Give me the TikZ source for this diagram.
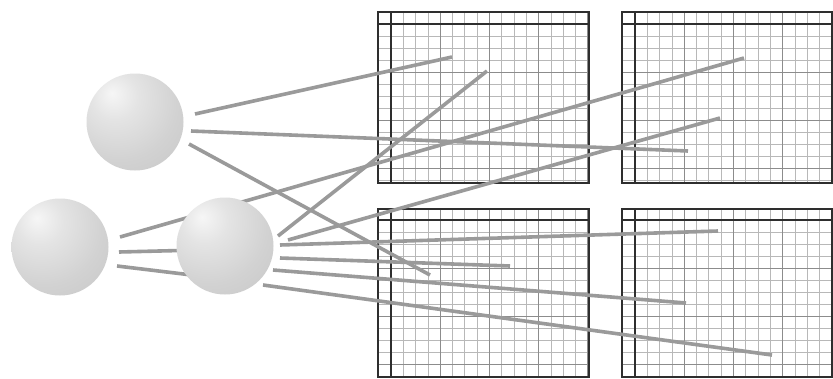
\documentclass[tikz,border=0pt]{standalone}
\usepackage{tikz}
\definecolor{sph0}{HTML}{F6F6F6}
\definecolor{sph1}{HTML}{E4E4E4}
\definecolor{sph2}{HTML}{D2D2D2}
\definecolor{sph3}{HTML}{C2C2C2}
\definecolor{sph4}{HTML}{B4B4B4}
\definecolor{wire}{HTML}{9A9A9A}
\definecolor{frame}{HTML}{2E2E2E}
\pgfdeclareradialshading{spherelight}{\pgfpoint{-12bp}{15bp}}{%
  color(0bp)=(sph0); color(12bp)=(sph1); color(30bp)=(sph2);
  color(55bp)=(sph3); color(70bp)=(sph4); color(100bp)=(sph4)}
\tikzset{
  gminor/.style={draw=black!28, line width=0.8pt},
  gmajor/.style={draw=black!45, line width=0.9pt},
  gframe/.style={draw=frame, line width=1.8pt},
  ginner/.style={draw=frame, line width=1.4pt},
  wireline/.style={draw=wire, line width=3.6pt},
  sphere/.style={circle, minimum size=97pt, inner sep=0pt, shading=spherelight}
}
\newcommand\gridpanel[6]{%
  \begin{scope}
    \clip (#1,#2) rectangle (#3,#4);
    \foreach \i in {-1,...,18} \draw[gminor] ({#5+\i*12.3},#2) -- ({#5+\i*12.3},#4);
    \foreach \j in {-1,...,15} \draw[gminor] (#1,{#6+\j*12}) -- (#3,{#6+\j*12});
    \foreach \i in {1,...,4} \draw[gmajor] ({#5+\i*49.2},#2) -- ({#5+\i*49.2},#4);
    \foreach \j in {1,...,3} \draw[gmajor] (#1,{#6+\j*48}) -- (#3,{#6+\j*48});
  \end{scope}
  \draw[ginner] (#5,#2) -- (#5,#4);
  \draw[ginner] (#1,#6) -- (#3,#6);
  \draw[gframe] (#1,#2) rectangle (#3,#4);
}
\begin{document}
\begin{tikzpicture}[x=1pt,y=-1pt]
\useasboundingbox[fill=white] (0,0) rectangle (833,378);

% grid panels
\gridpanel{378}{12}{589}{183}{391}{24}
\gridpanel{622}{12}{832}{183}{635}{24}
\gridpanel{378}{209}{589}{377}{391}{220}
\gridpanel{622}{209}{832}{377}{635}{220}

% connector end points
\coordinate (a1) at (195,114);  \coordinate (b1) at (452,57);
\coordinate (a2) at (191,131);  \coordinate (b2) at (688,151);
\coordinate (a3) at (189,144);  \coordinate (b3) at (430,275);
\coordinate (a4) at (120,237);  \coordinate (b4) at (744,58);
\coordinate (a5) at (119,252);  \coordinate (b5) at (200,250);
\coordinate (a6) at (117,266);  \coordinate (b6) at (200,276);
\coordinate (ma) at (278,236);  \coordinate (ea) at (487,71);
\coordinate (mb) at (288,240);  \coordinate (eb) at (720,118);
\coordinate (mc) at (280,245);  \coordinate (ec) at (718,231);
\coordinate (md) at (280,258);  \coordinate (ed) at (510,266);
\coordinate (me) at (273,270);  \coordinate (ee) at (686,303);
\coordinate (mf) at (263,285);  \coordinate (ef) at (772,355);

% connectors
\draw[wireline] (a1) -- (b1);
\draw[wireline] (a2) -- (b2);
\draw[wireline] (a3) -- (b3);
\draw[wireline] (a4) -- (b4);
\draw[wireline] (a5) -- (b5);
\draw[wireline] (a6) -- (b6);
\draw[wireline] (ma) -- (ea);
\draw[wireline] (mb) -- (eb);
\draw[wireline] (mc) -- (ec);
\draw[wireline] (md) -- (ed);
\draw[wireline] (me) -- (ee);
\draw[wireline] (mf) -- (ef);

% spheres
\node[sphere] (s1) at (135,122) {};
\node[sphere] (s2) at (60,247) {};
\node[sphere] (s3) at (225,246) {};
\end{tikzpicture}
\end{document}
